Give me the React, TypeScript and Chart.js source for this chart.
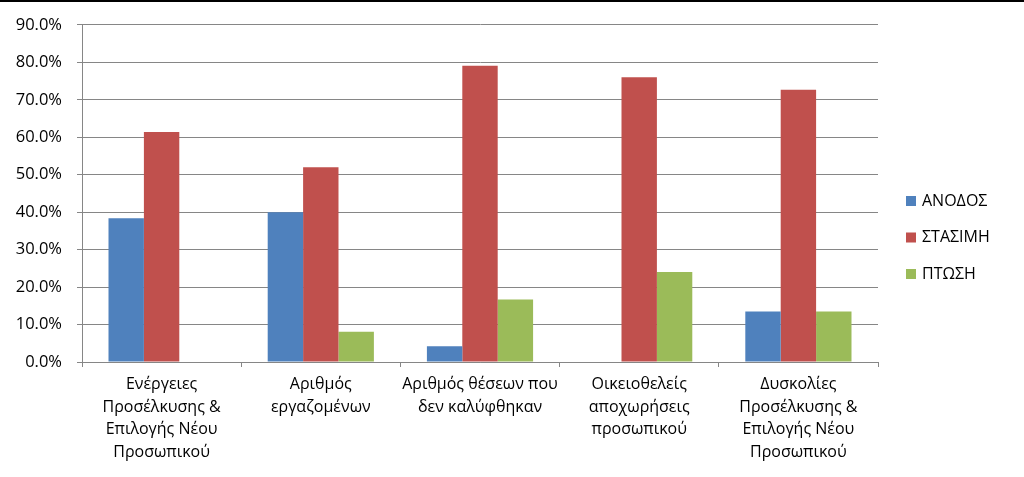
import React, { useEffect, useRef } from "react";
import { Chart, registerables } from "chart.js";

Chart.register(...registerables);

const categories: string[][] = [
  ["Ενέργειες", "Προσέλκυσης &", "Επιλογής Νέου", "Προσωπικού"],
  ["Αριθμός", "εργαζομένων"],
  ["Αριθμός θέσεων που", "δεν καλύφθηκαν"],
  ["Οικειοθελείς", "αποχωρήσεις", "προσωπικού"],
  ["Δυσκολίες", "Προσέλκυσης &", "Επιλογής Νέου", "Προσωπικού"],
];

const seriesNames = ["ΑΝΟΔΟΣ", "ΣΤΑΣΙΜΗ", "ΠΤΩΣΗ"];
const anodos = [38.4, 40.0, 4.2, 0, 13.5];
const stasimi = [61.4, 52.0, 79.1, 76.0, 72.7];
const ptosi = [0, 8.1, 16.7, 24.0, 13.5];
const colors = ["#4F81BD", "#C0504D", "#9BBB59"];

const FONT = "'Open Sans', 'DejaVu Sans', sans-serif";

const legendPlugin = {
  id: "customLegend",
  afterDraw(chart: any) {
    const { ctx, chartArea } = chart;
    const x = chartArea.right + 28;
    const midY = chart.height / 2 - 1;
    const gap = 36.5;
    const n = chart.data.datasets.length;
    ctx.save();
    ctx.font = `16px ${FONT}`;
    ctx.textBaseline = "middle";
    ctx.textAlign = "left";
    chart.data.datasets.forEach((ds: any, i: number) => {
      const cy = midY + (i - (n - 1) / 2) * gap;
      ctx.fillStyle = ds.backgroundColor;
      ctx.fillRect(x, cy - 5, 10, 10);
      ctx.fillStyle = "#000";
      ctx.fillText(ds.label, x + 16, cy);
    });
    ctx.restore();
  },
};

export default function App() {
  const ref = useRef<HTMLCanvasElement>(null);
  useEffect(() => {
    if (!ref.current) return;
    const chart = new Chart(ref.current, {
      type: "bar",
      data: {
        labels: categories,
        datasets: [
          { label: seriesNames[0], data: anodos, backgroundColor: colors[0] },
          { label: seriesNames[1], data: stasimi, backgroundColor: colors[1] },
          { label: seriesNames[2], data: ptosi, backgroundColor: colors[2] },
        ],
      },
      options: {
        animation: false,
        responsive: false,
        maintainAspectRatio: false,
        layout: { padding: { left: 0, right: 146, top: 17, bottom: 0 } },
        datasets: { bar: { categoryPercentage: 0.667, barPercentage: 1 } },
        plugins: { legend: { display: false }, tooltip: { enabled: false } },
        scales: {
          x: {
            offset: true,
            grid: {
              offset: true,
              drawOnChartArea: false,
              drawTicks: true,
              tickLength: 5,
              color: "#868686",
            },
            border: { color: "#868686", width: 1 },
            ticks: {
              color: "#000",
              padding: 6,
              maxRotation: 0,
              autoSkip: false,
              font: { family: FONT, size: 16, lineHeight: 1.42 },
            },
            afterFit(scale: any) {
              scale.height = 115;
            },
          },
          y: {
            min: 0,
            max: 90,
            ticks: {
              stepSize: 10,
              color: "#000",
              padding: 15,
              font: { family: FONT, size: 16.5 },
              callback: (v: any) => Number(v).toFixed(1) + "%",
            },
            grid: { color: "#868686", tickLength: 5, drawTicks: true },
            border: { color: "#868686", width: 1 },
            afterFit(scale: any) {
              scale.width = 82;
            },
          },
        },
      },
      plugins: [legendPlugin],
    });
    return () => chart.destroy();
  }, []);
  return (
    <div style={{ position: "absolute", left: 0, top: 0, width: 1024, height: 477, background: "#fff" }}>
      <canvas ref={ref} width={1024} height={477} style={{ display: "block" }} />
      <div style={{ position: "absolute", left: 0, top: 0, width: 1024, height: 2, background: "#000" }} />
    </div>
  );
}
